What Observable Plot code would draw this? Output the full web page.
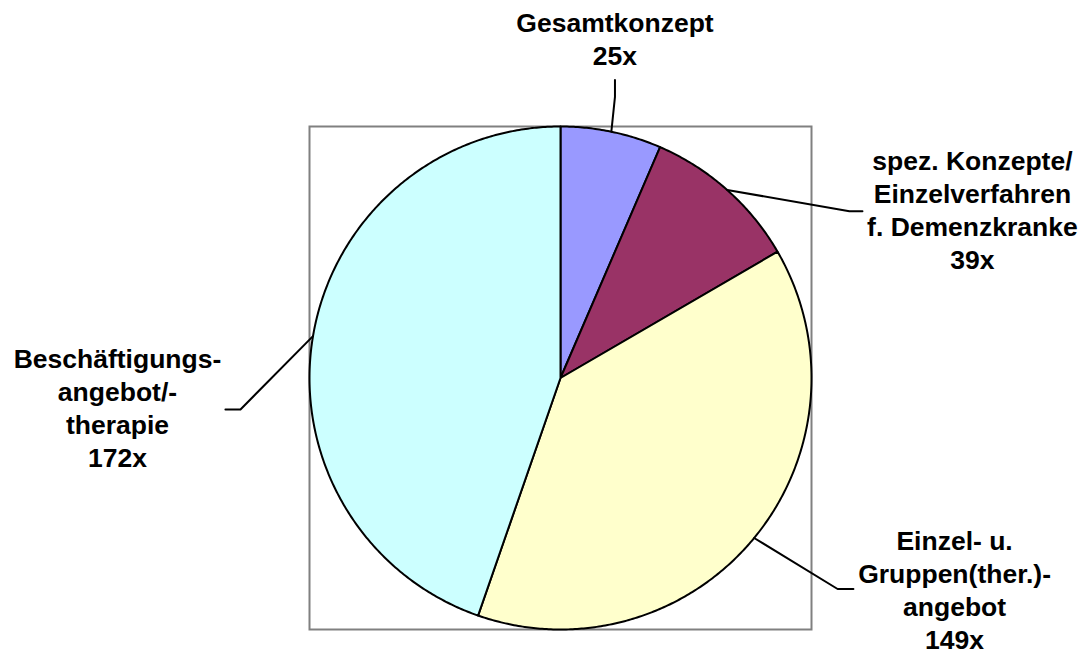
<!DOCTYPE html>
<html>
<head>
<meta charset="utf-8">
<script src="https://cdn.jsdelivr.net/npm/d3@7"></script>
<script src="https://cdn.jsdelivr.net/npm/@observablehq/plot@0.6"></script>
<style>
  html, body { margin: 0; padding: 0; background: #ffffff; }
  #chart svg { display: block; }
</style>
</head>
<body>
<div id="chart"></div>
<script>
// ---- data ----
const categories = [
  "Gesamtkonzept",
  "spez. Konzepte/\nEinzelverfahren\nf. Demenzkranke",
  "Einzel- u.\nGruppen(ther.)-\nangebot",
  "Beschäftigungs-\nangebot/-\ntherapie"
];
const counts = [25, 39, 149, 172];
const colors = ["#9999FF", "#993366", "#FFFFCC", "#CCFFFF"];

// ---- layout (in units of pie radius, centre = 0,0) ----
const leaderElbow = [[0.217, 1.118], [1.151, 0.663], [1.104, -0.839], [-1.275, -0.125]];
const leaderEnd   = [[0.217, 1.185], [1.203, 0.663], [1.167, -0.839], [-1.335, -0.125]];
const labelPos    = [[0.217, 1.245], [1.641, 0.434], [1.570, -1.076], [-1.765, -0.355]];

// ---- build slices ----
const total = d3.sum(counts);
let acc = 0;
const slices = categories.map((c, i) => {
  const a0 = acc / total * 2 * Math.PI;
  acc += counts[i];
  const a1 = acc / total * 2 * Math.PI;
  return {key: c, a0, a1, mid: (a0 + a1) / 2};
});

const slicePts = [];
slices.forEach(s => {
  slicePts.push({key: s.key, x: 0, y: 0});
  const n = Math.max(2, Math.ceil((s.a1 - s.a0) / (Math.PI / 360)));
  for (let k = 0; k <= n; k++) {
    const a = s.a0 + (s.a1 - s.a0) * k / n;
    slicePts.push({key: s.key, x: Math.sin(a), y: Math.cos(a)});
  }
});

const leaderPts = [];
slices.forEach((s, i) => {
  leaderPts.push({key: s.key, x: Math.sin(s.mid), y: Math.cos(s.mid)});
  leaderPts.push({key: s.key, x: leaderElbow[i][0], y: leaderElbow[i][1]});
  leaderPts.push({key: s.key, x: leaderEnd[i][0], y: leaderEnd[i][1]});
});

const labels = categories.map((c, i) => ({
  key: c, x: labelPos[i][0], y: labelPos[i][1], text: `${c}\n${counts[i]}x`
}));

const chart = Plot.plot({
  width: 1087,
  height: 655,
  marginLeft: 309,
  marginRight: 276,
  marginTop: 126,
  marginBottom: 26,
  x: {domain: [-1, 1], axis: null},
  y: {domain: [-1, 1], axis: null},
  color: {domain: categories, range: colors},
  style: {background: "#ffffff"},
  marks: [
    Plot.frame({stroke: "#808080", strokeWidth: 2}),
    Plot.line(slicePts, {
      x: "x", y: "y", z: "key", fill: "key",
      stroke: "#000000", strokeWidth: 2, curve: "linear-closed", strokeLinejoin: "round"
    }),
    Plot.line(leaderPts, {
      x: "x", y: "y", z: "key", stroke: "#000000", strokeWidth: 2
    }),
    Plot.text(labels, {
      x: "x", y: "y", text: "text",
      fontSize: 26.5, fontWeight: "bold",
      fontFamily: "'Liberation Sans', Arial, sans-serif",
      lineAnchor: "bottom", lineHeight: 1.245, fill: "#000000"
    })
  ]
});
document.getElementById("chart").appendChild(chart);
</script>
</body>
</html>
